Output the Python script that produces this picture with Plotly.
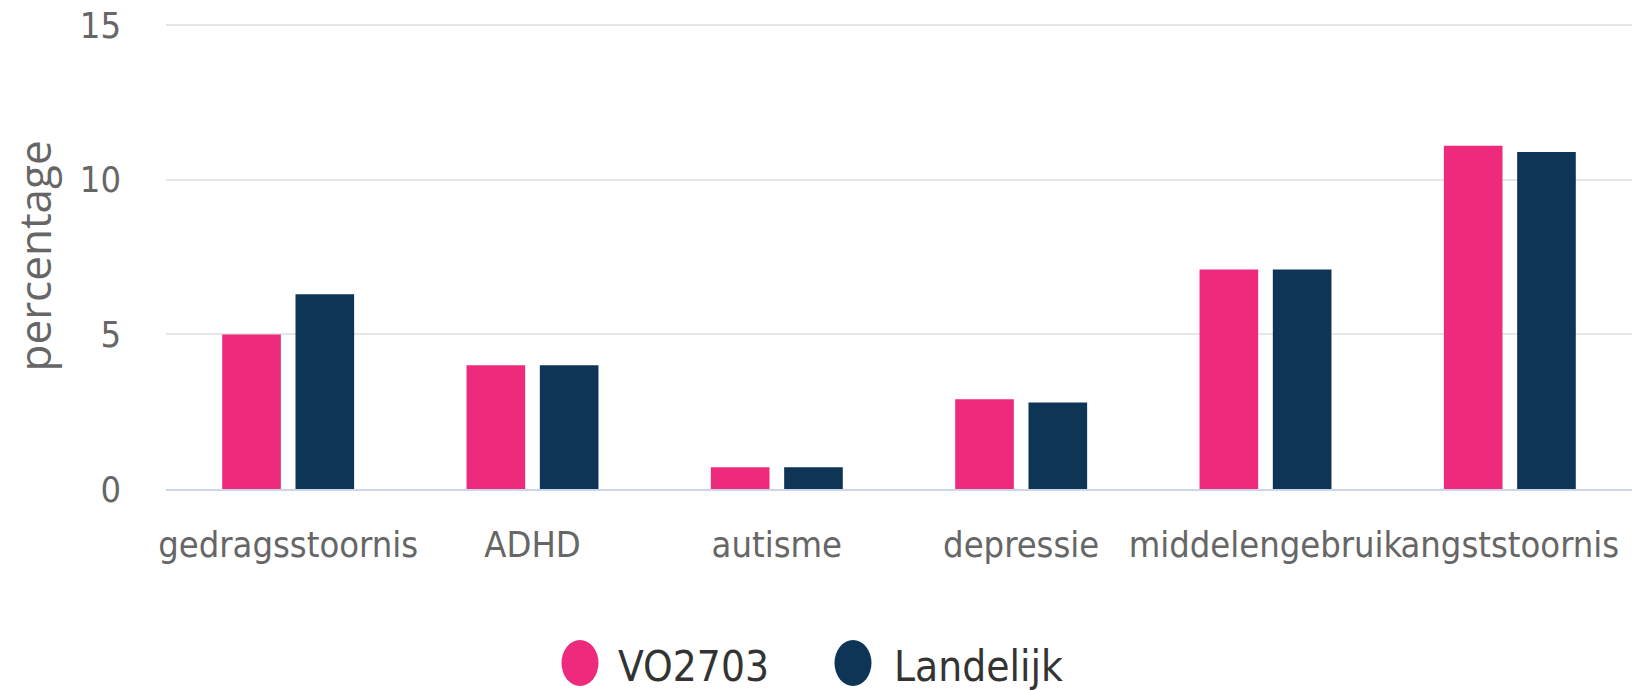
import plotly.graph_objects as go

categories = ["gedragsstoornis", "ADHD", "autisme", "depressie", "middelengebruik", "angststoornis"]
series_names = ["VO2703", "Landelijk"]
vo2703 = [5.0, 4.0, 0.7, 2.9, 7.1, 11.1]
landelijk = [6.3, 4.0, 0.7, 2.8, 7.1, 10.9]
y_ticks = [0, 5, 10, 15]
y_title = "percentage"

colors = ["#ED2A7B", "#0F3556"]

W, H = 1637, 690
ML, MR, MT, MB = 166, 5, 24, 201
PW = W - ML - MR
PH = H - MT - MB


def px_to_paper_x(px):
    return (px - ML) / PW


def px_to_paper_y(py):
    return (H - MB - py) / PH


fig = go.Figure()
for name, vals, col in zip(series_names, [vo2703, landelijk], colors):
    fig.add_trace(go.Bar(
        x=categories, y=vals, name=name,
        marker=dict(color=col, line=dict(width=0)),
        showlegend=False,
    ))

label_font = "DejaVu Sans Condensed, DejaVu Sans, sans-serif"

fig.update_layout(
    width=W, height=H,
    margin=dict(l=ML, r=MR, t=MT, b=MB, autoexpand=False),
    paper_bgcolor="white", plot_bgcolor="white",
    barmode="group", bargap=0.4, bargroupgap=0.2,
    xaxis=dict(
        showgrid=False, showline=True, linecolor="#ccd6eb", linewidth=2,
        ticks="", tickangle=0, automargin=False,
        tickfont=dict(family=label_font, size=36, color="#666666"),
        ticklabelstandoff=23, fixedrange=True,
    ),
    yaxis=dict(
        range=[0, 15.04], tickvals=y_ticks, ticktext=[str(v) for v in y_ticks],
        showgrid=True, gridcolor="#e6e6e6", gridwidth=2, zeroline=False,
        showline=False, ticks="", automargin=False,
        tickfont=dict(family=label_font, size=36, color="#666666"),
        ticklabelstandoff=44, fixedrange=True,
    ),
    showlegend=False,
)

annotations = [dict(
    text=y_title, xref="paper", yref="paper",
    x=px_to_paper_x(33), y=0.5, xanchor="center", yanchor="middle",
    textangle=-90, showarrow=False,
    font=dict(family="Open Sans, sans-serif", size=44, color="#666666"),
)]

shapes = []
legend_circles_x = [580, 853]
legend_text_x = [616, 892]
legend_y = 663
for name, col, cx, tx in zip(series_names, colors, legend_circles_x, legend_text_x):
    shapes.append(dict(
        type="circle", xref="paper", yref="paper",
        xsizemode="pixel", ysizemode="pixel",
        xanchor=px_to_paper_x(cx), yanchor=px_to_paper_y(legend_y),
        x0=-18.5, x1=18.5, y0=-23, y1=23,
        fillcolor=col, line=dict(width=0),
    ))
    annotations.append(dict(
        text=name, xref="paper", yref="paper",
        x=px_to_paper_x(tx), y=px_to_paper_y(legend_y + 3),
        xanchor="left", yanchor="middle", showarrow=False,
        font=dict(family="DejaVu Sans Condensed, DejaVu Sans, sans-serif", size=42,
                  color="#333333"),
    ))

fig.update_layout(annotations=annotations, shapes=shapes)

fig.write_html(
    "out.html",
    config={"displayModeBar": False},
    post_script="document.body.style.margin='0';document.body.style.overflow='hidden';",
)
